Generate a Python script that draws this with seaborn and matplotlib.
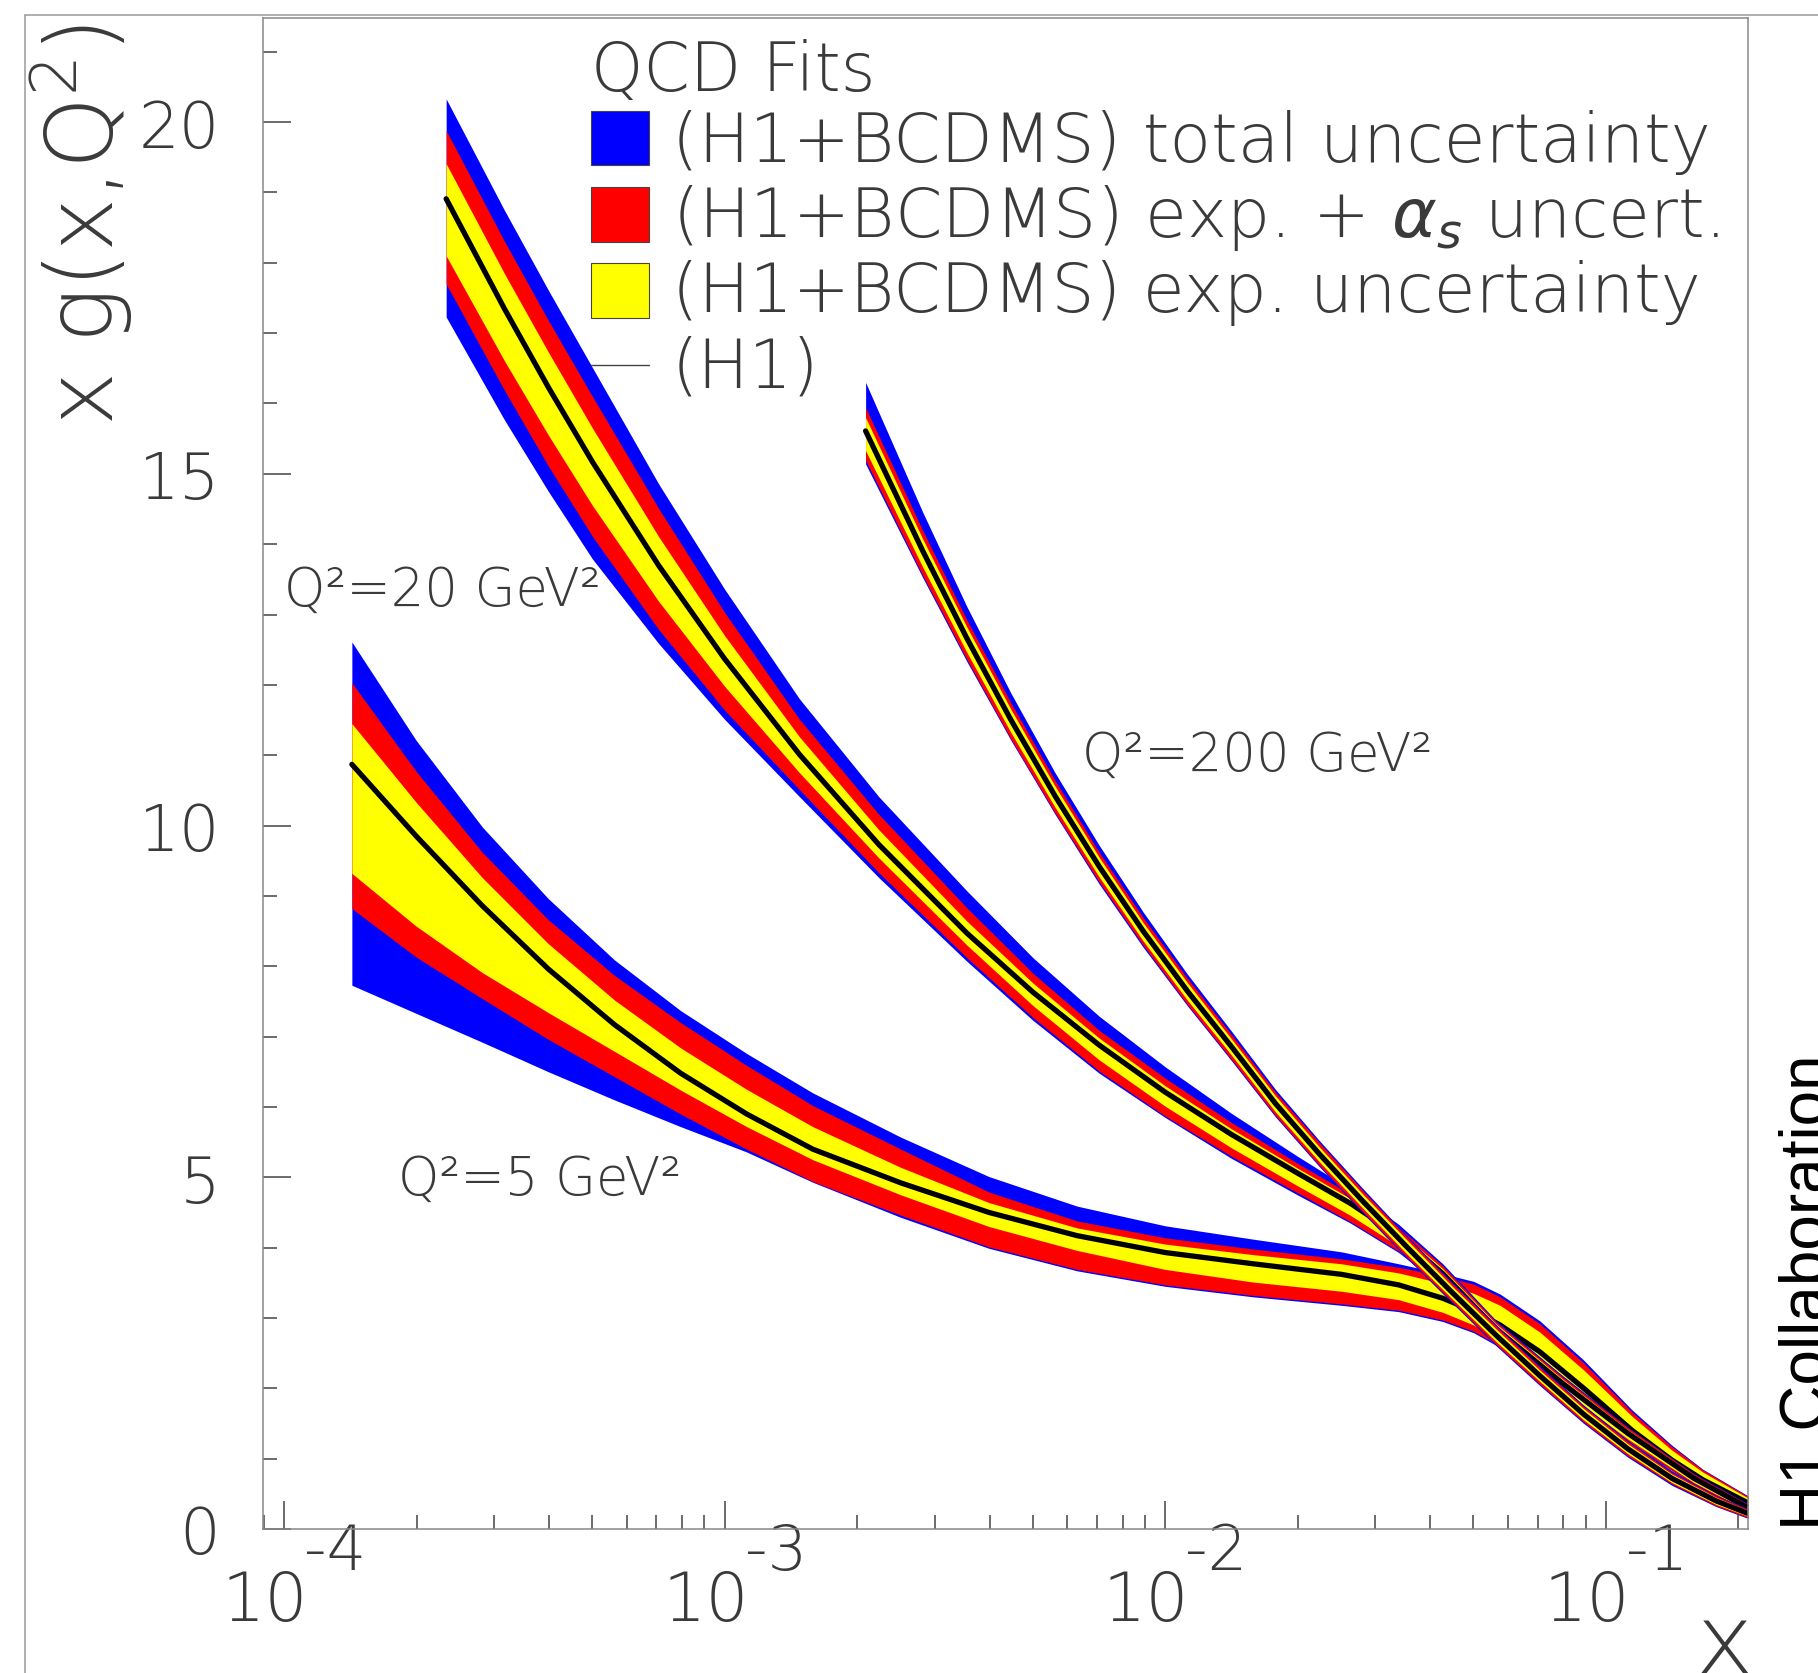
import numpy as np
import pandas as pd
import matplotlib
matplotlib.use("Agg")
import matplotlib.pyplot as plt
import seaborn as sns
from matplotlib.lines import Line2D
from matplotlib.patches import Rectangle
from matplotlib.ticker import LogLocator, MultipleLocator, NullFormatter
from matplotlib.transforms import ScaledTranslation

# ---------------- data ----------------
# Q^2 = 5 GeV^2
q5_logx = [-3.846, -3.7, -3.55, -3.4, -3.25, -3.1, -2.95, -2.8, -2.6, -2.4, -2.2, -2.0,
           -1.8, -1.6, -1.47, -1.37, -1.3, -1.24, -1.15, -1.05, -0.94, -0.85, -0.78, -0.677]
q5_central = [10.87, 9.85, 8.86, 7.96, 7.17, 6.48, 5.90, 5.40, 4.92, 4.50, 4.17, 3.93,
              3.77, 3.62, 3.47, 3.28, 3.10, 2.90, 2.52, 2.00, 1.40, 0.98, 0.70, 0.37]
q5_exp_up = [0.58, 0.48, 0.40, 0.36, 0.35, 0.36, 0.35, 0.32, 0.22, 0.14, 0.11, 0.12,
             0.13, 0.15, 0.17, 0.21, 0.25, 0.28, 0.28, 0.26, 0.20, 0.14, 0.11, 0.07]
q5_exp_dn = [1.55, 1.28, 0.95, 0.62, 0.38, 0.24, 0.18, 0.15, 0.17, 0.20, 0.21, 0.24,
             0.26, 0.24, 0.21, 0.20, 0.20, 0.22, 0.22, 0.20, 0.18, 0.15, 0.13, 0.07]
q5_as_up = [1.16, 0.92, 0.76, 0.70, 0.70, 0.72, 0.69, 0.62, 0.48, 0.29, 0.21, 0.21,
            0.21, 0.22, 0.25, 0.32, 0.38, 0.40, 0.40, 0.36, 0.26, 0.19, 0.14, 0.09]
q5_as_dn = [2.05, 1.72, 1.32, 1.00, 0.74, 0.58, 0.50, 0.46, 0.46, 0.49, 0.48, 0.46,
            0.45, 0.42, 0.36, 0.31, 0.29, 0.30, 0.30, 0.27, 0.24, 0.20, 0.17, 0.09]
q5_tot_up = [1.74, 1.36, 1.12, 1.00, 0.92, 0.89, 0.86, 0.80, 0.65, 0.51, 0.42, 0.38,
             0.35, 0.32, 0.30, 0.35, 0.42, 0.44, 0.44, 0.40, 0.29, 0.21, 0.15, 0.10]
q5_tot_dn = [3.14, 2.52, 1.94, 1.46, 1.07, 0.76, 0.54, 0.47, 0.49, 0.51, 0.50, 0.48,
             0.47, 0.44, 0.38, 0.33, 0.31, 0.32, 0.32, 0.29, 0.26, 0.22, 0.19, 0.10]

# Q^2 = 20 GeV^2
q20_logx = [-3.632, -3.5, -3.4, -3.3, -3.15, -3.0, -2.83, -2.65, -2.45, -2.3, -2.15,
            -2.0, -1.85, -1.7, -1.58, -1.47, -1.37, -1.25, -1.1, -0.95, -0.8, -0.677]
q20_central = [18.91, 17.35, 16.23, 15.17, 13.70, 12.37, 11.01, 9.73, 8.47, 7.63, 6.88,
               6.21, 5.61, 5.06, 4.63, 4.17, 3.63, 2.85, 2.08, 1.36, 0.72, 0.30]
q20_exp_up = [0.50, 0.50, 0.50, 0.48, 0.41, 0.33, 0.25, 0.21, 0.17, 0.13, 0.10,
              0.09, 0.08, 0.07, 0.07, 0.07, 0.07, 0.07, 0.06, 0.05, 0.04, 0.03]
q20_exp_dn = [0.81, 0.74, 0.68, 0.62, 0.51, 0.39, 0.26, 0.19, 0.17, 0.19, 0.21,
              0.20, 0.19, 0.18, 0.17, 0.15, 0.13, 0.12, 0.10, 0.08, 0.06, 0.04]
q20_as_up = [0.97, 0.96, 0.95, 0.93, 0.81, 0.66, 0.50, 0.43, 0.36, 0.27, 0.21,
             0.20, 0.17, 0.14, 0.13, 0.12, 0.11, 0.10, 0.09, 0.08, 0.06, 0.05]
q20_as_dn = [1.21, 1.16, 1.12, 1.06, 0.91, 0.73, 0.50, 0.40, 0.35, 0.36, 0.37,
             0.34, 0.31, 0.28, 0.26, 0.22, 0.18, 0.16, 0.14, 0.11, 0.08, 0.06]
q20_tot_up = [1.42, 1.40, 1.38, 1.34, 1.16, 0.99, 0.79, 0.68, 0.60, 0.49, 0.41,
              0.36, 0.30, 0.24, 0.20, 0.16, 0.14, 0.12, 0.11, 0.09, 0.07, 0.06]
q20_tot_dn = [1.68, 1.58, 1.48, 1.38, 1.11, 0.86, 0.60, 0.47, 0.40, 0.40, 0.40,
              0.36, 0.34, 0.31, 0.28, 0.24, 0.20, 0.18, 0.15, 0.12, 0.09, 0.07]

# Q^2 = 200 GeV^2
q200_logx = [-2.68, -2.55, -2.45, -2.35, -2.25, -2.15, -2.05, -1.95, -1.85, -1.75, -1.65,
             -1.55, -1.45, -1.35, -1.25, -1.15, -1.05, -0.95, -0.85, -0.75, -0.677]
q200_central = [15.61, 13.90, 12.66, 11.50, 10.42, 9.42, 8.50, 7.65, 6.86, 6.05, 5.33,
                4.65, 4.00, 3.37, 2.76, 2.18, 1.63, 1.14, 0.72, 0.40, 0.22]
q200_exp_up = [0.19, 0.17, 0.16, 0.15, 0.14, 0.13, 0.12, 0.12, 0.11, 0.11, 0.10,
               0.10, 0.10, 0.09, 0.09, 0.08, 0.08, 0.07, 0.06, 0.05, 0.04]
q200_exp_dn = [0.28, 0.23, 0.20, 0.18, 0.16, 0.15, 0.14, 0.13, 0.12, 0.12, 0.11,
               0.10, 0.10, 0.09, 0.09, 0.08, 0.08, 0.07, 0.06, 0.05, 0.04]
q200_as_up = [0.33, 0.29, 0.26, 0.24, 0.22, 0.20, 0.19, 0.18, 0.17, 0.16, 0.16,
              0.15, 0.14, 0.13, 0.13, 0.12, 0.11, 0.10, 0.08, 0.07, 0.06]
q200_as_dn = [0.42, 0.35, 0.30, 0.27, 0.24, 0.22, 0.20, 0.19, 0.18, 0.17, 0.16,
              0.15, 0.14, 0.13, 0.13, 0.12, 0.11, 0.10, 0.08, 0.07, 0.06]
q200_tot_up = [0.69, 0.55, 0.45, 0.38, 0.33, 0.30, 0.27, 0.24, 0.22, 0.20, 0.19,
               0.18, 0.16, 0.15, 0.15, 0.14, 0.13, 0.12, 0.10, 0.08, 0.07]
q200_tot_dn = [0.47, 0.38, 0.33, 0.29, 0.26, 0.25, 0.23, 0.21, 0.20, 0.19, 0.18,
               0.17, 0.16, 0.15, 0.15, 0.14, 0.13, 0.12, 0.10, 0.08, 0.07]

curve_labels = ["Q\u00b2=5 GeV\u00b2", "Q\u00b2=20 GeV\u00b2", "Q\u00b2=200 GeV\u00b2"]
legend_title = "QCD Fits"
legend_labels = ["(H1+BCDMS) total uncertainty",
                 r"(H1+BCDMS) exp. + $\alpha_s$ uncert.",
                 "(H1+BCDMS) exp. uncertainty",
                 "(H1)"]
x_ticks = [1e-4, 1e-3, 1e-2, 1e-1]
x_tick_bases = ["10", "10", "10", "10"]
x_tick_exponents = ["-4", "-3", "-2", "-1"]
y_ticks = [0, 5, 10, 15, 20]
y_tick_labels = ["0", "5", "10", "15", "20"]

BLUE, RED, YELLOW = "#0000ff", "#ff0000", "#ffff00"
TXT = "#3a3a3a"

# ---------------- style ----------------
sns.set_theme(style="white")
plt.rcParams["font.family"] = ["DejaVu Sans"]
plt.rcParams["font.weight"] = 200
plt.rcParams["mathtext.fontset"] = "custom"
plt.rcParams["mathtext.rm"] = "DejaVu Sans:weight=200"
plt.rcParams["mathtext.it"] = "DejaVu Sans:oblique:weight=400"
plt.rcParams["mathtext.bf"] = "DejaVu Sans:bold"
plt.rcParams["text.color"] = TXT

W, H = 1818, 1674
fig = plt.figure(figsize=(W / 100, H / 100), dpi=100)
fig.patch.set_facecolor("white")


def fx(px):
    return px / W


def fy(py):
    return 1 - py / H


ax = fig.add_axes([fx(263), fy(1530), fx(1748) - fx(263), fy(19) - fy(1530)])
ax.set_facecolor("white")
ax.set_xscale("log")

curves = [
    (q5_logx, q5_central, q5_exp_up, q5_exp_dn, q5_as_up, q5_as_dn, q5_tot_up, q5_tot_dn),
    (q20_logx, q20_central, q20_exp_up, q20_exp_dn, q20_as_up, q20_as_dn, q20_tot_up, q20_tot_dn),
    (q200_logx, q200_central, q200_exp_up, q200_exp_dn, q200_as_up, q200_as_dn, q200_tot_up, q200_tot_dn),
]

for i, (lx, c, yu, yd, ru, rd, bu, bd) in enumerate(curves):
    df = pd.DataFrame({"x": np.power(10.0, lx), "c": c, "yu": yu, "yd": yd,
                       "ru": ru, "rd": rd, "bu": bu, "bd": bd})
    z = 10 * (i + 1)
    ax.fill_between(df["x"], df["c"] - df["bd"], df["c"] + df["bu"], color=BLUE, lw=0, zorder=z + 1)
    ax.fill_between(df["x"], df["c"] - df["rd"], df["c"] + df["ru"], color=RED, lw=0, zorder=z + 2)
    ax.fill_between(df["x"], df["c"] - df["yd"], df["c"] + df["yu"], color=YELLOW, lw=0, zorder=z + 3)
    sns.lineplot(data=df, x="x", y="c", ax=ax, color="black", lw=3.8, zorder=z + 4,
                 legend=False, sort=False)

ax.set_xlim(10 ** -4.0477, 10 ** -0.6773)
ax.set_ylim(0, 21.48)
ax.set_xlabel("")
ax.set_ylabel("")

ax.set_xticks(x_ticks)
ax.set_xticklabels(x_tick_bases)
ax.xaxis.set_minor_locator(LogLocator(base=10, subs=np.arange(2, 10)))
ax.xaxis.set_minor_formatter(NullFormatter())
ax.set_yticks(y_ticks)
ax.set_yticklabels(y_tick_labels)
ax.yaxis.set_minor_locator(MultipleLocator(1))

ax.tick_params(axis="both", which="major", direction="in", length=20, width=1.1,
               color="#444444", top=False, right=False, bottom=True, left=True)
ax.tick_params(axis="both", which="minor", direction="in", length=10, width=1.1,
               color="#444444", top=False, right=False, bottom=True, left=True)
ax.tick_params(axis="y", which="major", labelsize=46, pad=31, labelcolor=TXT)
ax.tick_params(axis="x", which="major", labelsize=49, pad=28, labelcolor=TXT)
shift = ScaledTranslation(-19 / 100, 0, fig.dpi_scale_trans)
for lbl in ax.get_xticklabels():
    lbl.set_fontweight(200)
    lbl.set_transform(lbl.get_transform() + shift)
for lbl in ax.get_yticklabels():
    lbl.set_fontweight(200)

# exponents of the x tick labels (ROOT draws them almost as large as the base)
for xt, ex in zip(x_ticks, x_tick_exponents):
    ax.annotate(ex, xy=(xt, 0), xycoords=("data", "axes fraction"),
                xytext=(20, 7), textcoords="offset pixels", ha="left", va="top",
                fontsize=45, color=TXT, annotation_clip=False)

for s in ax.spines.values():
    s.set_color("#888888")
    s.set_linewidth(1.1)
    s.set_visible(True)
    s.set_zorder(100)

# outer canvas frame
fig.add_artist(Line2D([fx(25), fx(25)], [0, fy(16)], transform=fig.transFigure,
                      color="#9a9a9a", lw=1.1))
fig.add_artist(Line2D([fx(25), 1], [fy(16), fy(16)], transform=fig.transFigure,
                      color="#9a9a9a", lw=1.1))

# axis titles
fig.text(fx(113), fy(24), "x g(x,Q$^2$)", rotation=90, rotation_mode="anchor",
         ha="right", va="baseline", fontsize=66, color=TXT)
fig.text(fx(1724), fy(1673), "x", ha="center", va="baseline", fontsize=70, color=TXT)

# legend (manual, ROOT-style)
fig.text(fx(591), fy(72), legend_title, ha="left", va="center", fontsize=48, color=TXT)
box_rows = [(112, 166, BLUE), (188, 243, RED), (264, 319, YELLOW)]
for (t, b, col) in box_rows:
    fig.add_artist(Rectangle((fx(591), fy(b)), fx(649) - fx(591), fy(t) - fy(b),
                             transform=fig.transFigure, facecolor=col,
                             edgecolor="#444444", lw=0.8))
fig.add_artist(Line2D([fx(591), fx(649)], [fy(366), fy(366)], transform=fig.transFigure,
                      color="#444444", lw=1.0))
for lab, yc in zip(legend_labels, [143, 218, 293, 369]):
    fig.text(fx(672), fy(yc), lab, ha="left", va="center", fontsize=49, color=TXT)

# curve annotations
for lab, (px, py) in zip(curve_labels, [(398, 1180), (284, 591), (1082, 756)]):
    fig.text(fx(px), fy(py), lab, ha="left", va="center", fontsize=38, color=TXT)

# collaboration tag
fig.text(fx(1826), fy(1530), "H1 Collaboration", rotation=90, rotation_mode="anchor",
         ha="left", va="baseline", fontsize=46, color="black",
         family=["Liberation Sans", "DejaVu Sans"], fontweight="normal")

fig.savefig("out.png", dpi=100, facecolor="white")
